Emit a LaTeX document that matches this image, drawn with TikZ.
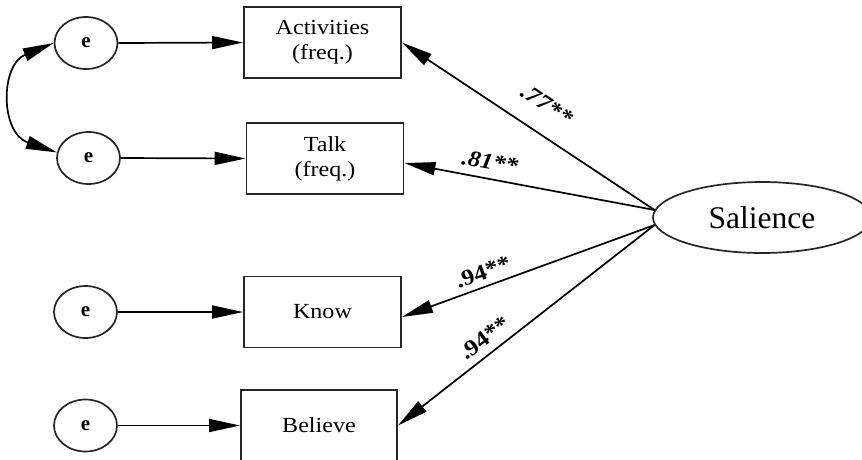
\documentclass[tikz,border=0pt]{standalone}
\usepackage{fontspec}
\setmainfont{Liberation Serif}
\newfontfamily\boxfont[FakeStretch=1.12]{Liberation Serif}
\usetikzlibrary{arrows.meta,shapes.geometric}

\tikzset{
  obsbox/.style={draw=black!85, line width=1.9pt, minimum width=157pt,
    minimum height=71pt, inner sep=0pt, align=center,
    font=\boxfont\fontsize{21.5}{25}\selectfont},
  errnode/.style={ellipse, draw=black!85, line width=1.7pt, minimum width=63pt,
    minimum height=52pt, inner sep=0pt, font=\fontsize{21}{24}\selectfont\bfseries},
  latent/.style={ellipse, draw=black!85, line width=1.7pt, minimum width=218pt,
    minimum height=71pt, inner sep=0pt, font=\fontsize{31.5}{35}\selectfont},
  link/.style={line width=1.7pt, -{Triangle[length=31pt,width=13pt]}},
  covlink/.style={line width=1.7pt,
    {Triangle[length=31pt,width=13pt]}-{Triangle[length=31pt,width=13pt]}},
  coef/.style={font=\boxfont\fontsize{22.5}{24}\selectfont\bfseries, inner sep=0pt},
}

\begin{document}
\begin{tikzpicture}[x=1pt,y=-1pt]
  \useasboundingbox (0,0) rectangle (862,459);

  % indicator boxes
  \node[obsbox] (act)  at (322.5,42.5) {Activities\\(freq.)};
  \node[obsbox] (talk) at (325,158.5)  {Talk\\(freq.)};
  \node[obsbox] (know) at (322.5,312)  {Know};
  \node[obsbox, minimum width=156pt] (bel) at (319,425.5) {Believe};

  % error terms
  \node[errnode] (e1) at (86,43)     {e};
  \node[errnode] (e2) at (88.5,158)  {e};
  \node[errnode] (e3) at (85.5,312)  {e};
  \node[errnode] (e4) at (85.5,425.5) {e};

  % latent factor
  \node[latent] (sal) at (762,217.5) {Salience};

  % error paths
  \draw[link] (e1.east) -- (act.west);
  \draw[link] (e2.east) -- (talk.west);
  \draw[link] (e3.east) -- (know.west);
  \draw[link] (e4.east) -- (bel.west);

  % correlated errors
  \draw[covlink] (e1.west) .. controls (0,65) and (0,133) .. (e2.170);

  % loadings
  \draw[link] (sal.176) -- (act.east);
  \draw[link] (sal.176) -- ([yshift=-4.5pt]talk.east);
  \draw[link] (sal.184) -- ([yshift=-5pt]know.east);
  \draw[link] (sal.184) -- (bel.east);

  % loading estimates
  \node[coef, rotate=-33.6] (c1) at (547,105) {\itshape .77**};
  \node[coef, rotate=-10]   (c2) at (490,162) {\itshape .81**};
  \node[coef, rotate=19.5]  (c3) at (483,272) {.94**};
  \node[coef, rotate=37]    (c4) at (485,338) {.94**};
\end{tikzpicture}
\end{document}
